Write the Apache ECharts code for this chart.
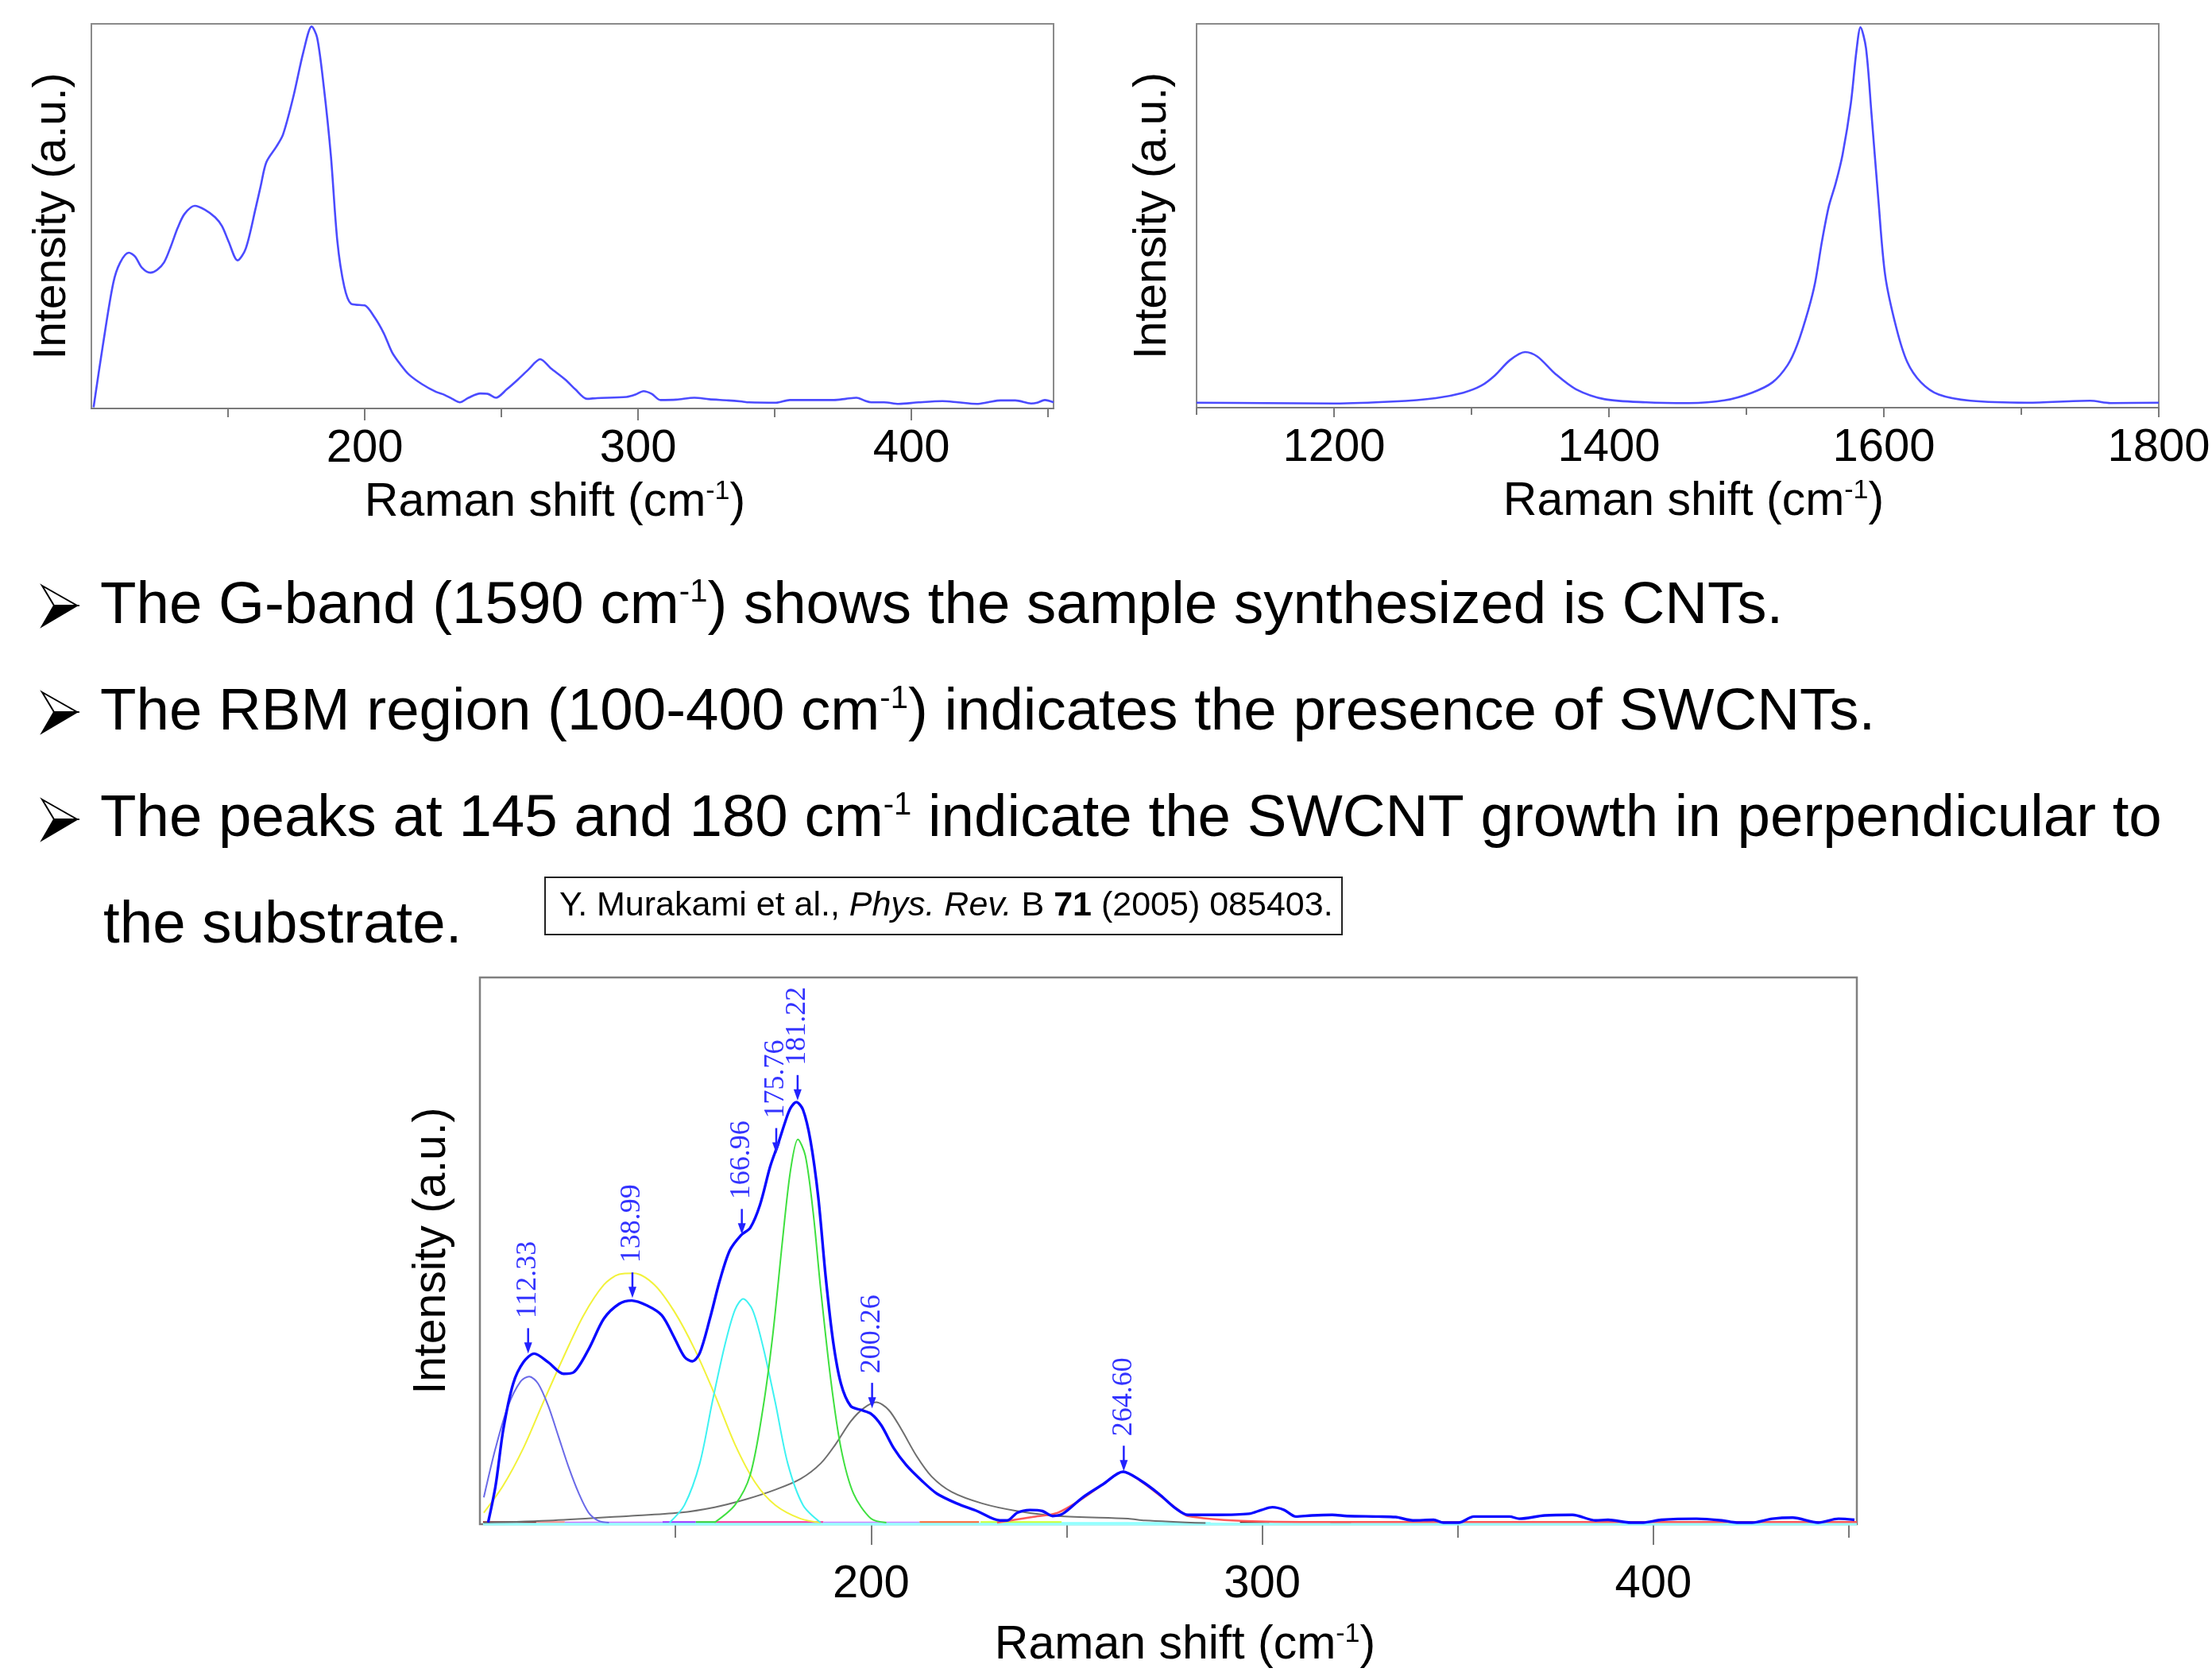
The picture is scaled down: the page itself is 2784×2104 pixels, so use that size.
<!DOCTYPE html>
<html><head><meta charset="utf-8">
<script src="https://cdn.jsdelivr.net/npm/echarts@6/dist/echarts.min.js"></script>
<style>html,body{margin:0;padding:0;background:#fff}#c{width:2784px;height:2104px}</style>
</head><body><div id="c"></div>
<script>
// ---------------- DATA ----------------
// Top-left: RBM region spectrum  [Raman shift, intensity (a.u., 0-100)]
const rbmSpectrum = [[100.8,0.3],[104.2,16.4],[108,32.6],[110.5,37.9],[113.7,40.5],[116,39.5],[118.5,36.6],[121.6,35.3],[124,36],[126.6,38],[129,42],[131.6,47],[134.1,50.6],[137.8,52.7],[141.5,51.7],[145.3,49.7],[147.8,47.4],[150.2,43.4],[153.5,38.5],[156.5,41.6],[160.2,52.4],[162,58],[164,64],[167.7,68.1],[170.1,71.2],[173.9,81.1],[177.6,92.8],[180.6,99.3],[182.6,96.4],[185,83.8],[187.6,65.9],[190,43.4],[192.5,31.7],[195,27.2],[198,26.9],[200,26.8],[203.7,23.6],[207,19.5],[210,14.6],[213,11.5],[216.2,8.8],[221,6.3],[226.1,4.3],[229,3.6],[232,2.5],[234.8,1.6],[238,2.8],[242.3,3.9],[245,3.8],[248,2.8],[252,5],[256,7.5],[260,10.2],[264.2,12.8],[268,10.5],[273.4,7.5],[277,5],[281.3,2.5],[285,2.7],[295.8,3],[299,3.6],[302,4.5],[305,3.8],[308.2,2.2],[314,2.3],[320.6,2.8],[326,2.4],[333,2.1],[338,1.8],[340.5,1.6],[350.5,1.5],[355.5,2.2],[365,2.2],[371.6,2.2],[376,2.5],[379.9,2.8],[383,2],[385.3,1.6],[390,1.6],[395.3,1.2],[402.7,1.6],[411.4,1.9],[417,1.6],[423.9,1.2],[428,1.6],[432.6,2.1],[438,2.1],[443.8,1.3],[446,1.5],[448.8,2.2],[452,1.6]];

// Top-right: D and G band spectrum
const dgSpectrum = [[1100,1.3],[1150,1.2],[1200,1.1],[1243,1.6],[1274,2.5],[1294,3.9],[1307,5.7],[1317,8.4],[1328,12.4],[1339,14.5],[1348,13.3],[1361,8.8],[1376,4.8],[1397,2.2],[1427,1.4],[1458,1.2],[1484,1.9],[1504,3.9],[1519,6.6],[1530,11.1],[1537,16.4],[1545,25.4],[1550,32.6],[1555,43.4],[1560,52.5],[1565,58.5],[1570,66],[1576,79.3],[1580,92.8],[1583,99.1],[1587,93.7],[1591,76.6],[1596,54.2],[1601,34.4],[1609,20.9],[1617,11.9],[1627,6.6],[1640,3.4],[1663,1.8],[1704,1.3],[1750,1.8],[1765,1.2],[1800,1.3]];

// Bottom: measured RBM spectrum (Murakami et al.)
const fitMeasured = [[102.1,0.3],[104,7],[106,17.4],[108.5,25.7],[111.1,29.6],[113.9,31.2],[117.5,29.6],[121.4,27.5],[124,27.8],[127.8,32],[131.7,37.6],[135.6,40.3],[138.8,40.9],[142.7,40],[146.5,38.2],[149.7,34.1],[152.3,30.6],[154.3,29.8],[156.2,31.3],[158.8,37.6],[161.3,44.5],[163.9,50.1],[166.8,52.9],[169.1,54.2],[171.6,58.4],[174.2,65.4],[176.2,69.5],[178.1,73.7],[179.4,76.1],[180.9,77.2],[182.6,75.8],[184.5,70.2],[186.5,59.8],[188.4,45.2],[190.3,33.4],[192.3,25.7],[194.8,21.6],[197.4,20.9],[200,20.2],[202.6,18.1],[205.8,13.9],[209,10.8],[212.9,8],[216.8,5.6],[221.9,3.8],[227.1,2.4],[232.9,0.7],[234.8,0.7],[237.4,2.1],[240.6,2.6],[243.8,2.4],[246.4,1.5],[249,1.9],[254.1,4.9],[259.3,7.3],[264.4,9.6],[268.9,8],[273.5,5.6],[278,2.8],[281,1.7],[288.2,1.7],[296.6,1.9],[299.8,2.6],[302.6,3.1],[305.6,2.6],[308.6,1.4],[312.7,1.6],[317.9,1.7],[321.7,1.5],[329.5,1.4],[334.1,1.3],[338.5,0.7],[343.8,0.8],[346.3,0.3],[350.2,0.3],[354.1,1.4],[363.2,1.4],[365.7,1],[372.2,1.6],[379.3,1.7],[385.2,0.7],[388.4,0.8],[394.2,0.3],[397.4,0.3],[402,0.8],[411,1],[417.5,0.7],[421.3,0.3],[425.2,0.3],[430.4,1],[435.6,1.2],[442.1,0.3],[447.3,1],[451.4,0.8]];

// Fitted components
const comp112 = [[101,4.9],[104,13.9],[107.2,21.6],[110.4,26.1],[112.6,27],[114.9,25.7],[117.5,21.6],[120.1,16],[122.7,10.4],[125.3,5.6],[127.8,2.1],[130.4,0.6],[133,0.3]];
const comp139 = [[101,2.1],[105.9,7],[111.1,13.9],[116.2,22.3],[121.4,30.6],[126.5,38.2],[131.7,43.8],[135.6,45.7],[139.4,45.9],[144.6,43.8],[149.7,38.9],[154.9,32],[160.1,23.6],[165.2,14.6],[170.4,7.6],[175.5,3.5],[182,1],[187.1,0.3]];
const comp167 = [[148.5,0.3],[152.3,3.5],[156.2,11.1],[159.4,22.3],[162.6,32.7],[165.2,39.2],[167.3,41.2],[169.7,39.2],[172.3,32.7],[175.5,22.3],[178.7,11.1],[182.6,3.5],[187.1,0.3]];
const comp181 = [[160,0.3],[165.2,3.5],[169.1,9],[172.3,20.9],[174.9,34.8],[177.4,52.2],[179.4,64.7],[181.3,70.4],[183.2,67.4],[185.2,57],[187.1,43.1],[189.7,26.4],[192.3,13.9],[195.5,5.6],[200,1],[203.9,0.3]];
const comp200 = [[101,0.3],[118.8,0.7],[138.1,1.5],[151,2.1],[160,3.1],[167.8,4.5],[175.5,6.3],[182,8.3],[187.1,11.1],[190.9,14.6],[194.8,18.8],[198.1,21.2],[201.3,22.3],[204.5,20.9],[207.7,17.4],[211.6,12.5],[215.5,8.7],[220.6,5.9],[228.4,3.8],[237.4,2.4],[247.7,1.5],[265.7,1],[270,0.7],[285.5,0.2]];
const comp265 = [[232.2,0.3],[241.2,1.3],[247.7,2.1],[254.1,4.7],[259.3,7.3],[264.4,9.6],[268.9,7.9],[273.5,5.4],[278.6,2.6],[281,1.5],[294.5,0.6],[310,0.4],[452,0.4]];

// Minor fitted components lying on the baseline: [start, end] in cm-1
const baseSegments = [[100.8,114.4],[114.4,121.7],[121.7,146.7],[146.7,155.2],[155.2,160.2],[160.2,187.8],[187.8,212.4],[212.4,227.6],[228,248.7],[248.7,286.8],[294.3,301.8],[317.4,322.7],[100.8,452]];
const baseLevels = [0.3,0.3,0.2,0.3,0.3,0.3,0.2,0.3,0.3,0.1,0.3,0.3,0.0];

// Peak annotations
const peakPos = [112.33,138.99,166.96,175.76,181.22,200.26,264.60];
const peakTip = [31.2,41.4,53.0,67.8,77.5,21.2,9.7];
const peakLabels = ['112.33','138.99','166.96','175.76','181.22','200.26','264.60'];

// Tick values
const rbmMajorTicks = [200,300,400];
const rbmMinorTicks = [150,250,350,450];
const dgMajorTicks = [1200,1400,1600,1800];
const dgMinorTicks = [1100,1300,1500,1700];

// ---------------- STYLE ----------------
const SANS = 'Liberation Sans';
const segColors = ['#8b1a1a','#ff8a8a','#cc77ff','#9933ff','#33cc33','#ff3399','#cc88ff','#ff6633','#ccff33','#66ffff','#8b1a1a','#8b1a1a','#99ffff'];
const axisGray = '#7a7a7a';

function mainX(gridIndex, min, max, ticks, tickLen, margin, namePad, nameGap) {
  return {
    type:'value', gridIndex, min, max, position:'bottom',
    axisLine:{show:true, onZero:false, lineStyle:{color:axisGray, width:2}},
    axisTick:{show:true, customValues:ticks, length:tickLen, lineStyle:{color:axisGray, width:2}},
    axisLabel:{show:true, customValues:ticks, margin, fontSize:58, fontFamily:SANS, color:'#000',
      formatter:function (v) { return String(v); }},
    splitLine:{show:false},
    name:'Raman shift (cm{sup|-1})', nameLocation:'middle', nameGap,
    nameTextStyle:{fontSize:59, fontFamily:SANS, color:'#000', lineHeight:62, padding:namePad,
      rich:{sup:{fontSize:34, fontFamily:SANS, color:'#000', verticalAlign:'top', lineHeight:27}}}
  };
}
function minorX(gridIndex, min, max, ticks, tickLen) {
  return {
    type:'value', gridIndex, min, max, position:'bottom',
    axisLine:{show:false},
    axisTick:{show:true, customValues:ticks, length:tickLen, lineStyle:{color:axisGray, width:2}},
    axisLabel:{show:false, customValues:ticks},
    splitLine:{show:false}
  };
}
function yAx(gridIndex, nameGap) {
  return {
    type:'value', gridIndex, min:0, max:100,
    axisLine:{show:false}, axisTick:{show:false}, axisLabel:{show:false}, splitLine:{show:false},
    name:'Intensity (a.u.)', nameLocation:'middle', nameGap, nameRotate:90,
    nameTextStyle:{fontSize:57, fontFamily:SANS, color:'#000'}
  };
}
function line(data, xi, yi, color, width, z) {
  return {type:'line', xAxisIndex:xi, yAxisIndex:yi, data, showSymbol:false, symbol:'none',
    smooth:0.3, lineStyle:{color, width}, z:z||2, silent:true};
}

const series = [];
series.push(line(rbmSpectrum, 0, 0, '#4b4bff', 2.6));
series.push(line(dgSpectrum, 2, 1, '#4b4bff', 2.6));
baseSegments.forEach((s, i) => {
  series.push({type:'line', xAxisIndex:4, yAxisIndex:2, data:[[s[0], baseLevels[i]],[s[1], baseLevels[i]]],
    showSymbol:false, symbol:'none', lineStyle:{color:segColors[i], width:3.5}, z:1, silent:true});
});
series.push(line(comp200, 4, 2, '#6e6e6e', 2));
series.push(line(comp139, 4, 2, '#f2f23a', 2));
series.push(line(comp112, 4, 2, '#6a6ae8', 2));
series.push(line(comp167, 4, 2, '#3ef2f2', 2));
series.push(line(comp181, 4, 2, '#3fe03f', 2));
series.push(line(comp265, 4, 2, '#ff5a5a', 2.5));
series.push(line(fitMeasured, 4, 2, '#0a0aff', 3.4, 5));
series.push({
  type:'custom', xAxisIndex:4, yAxisIndex:2, z:6, silent:true,
  data: peakPos.map((p, i) => [p, peakTip[i]]),
  renderItem: function (params, api) {
    const pt = api.coord([api.value(0), api.value(1)]);
    const x = pt[0], y = pt[1];
    const c = '#2222ff';
    return {type:'group', children:[
      {type:'line', shape:{x1:x, y1:y-32, x2:x, y2:y-8}, style:{stroke:c, lineWidth:2.5}},
      {type:'polygon', shape:{points:[[x-5,y-14],[x+5,y-14],[x,y]]}, style:{fill:c}},
      {type:'text', x:x, y:y-44, rotation:Math.PI/2,
        style:{text:peakLabels[params.dataIndex], x:0, y:0, align:'left', verticalAlign:'middle',
          font:'36px "Liberation Serif", "DejaVu Serif", serif', fill:'#3333ff'}}
    ]};
  }
});

// ---------------- TEXT ----------------
const supRich = {sup:{fontSize:40, lineHeight:32, verticalAlign:'top', fontFamily:SANS, fill:'#000'}};
function bodyLine(text, x, top) {
  return {type:'text', x, y:top, silent:true,
    style:{text, fontSize:74.5, lineHeight:74, fontFamily:SANS, fill:'#000', align:'left', verticalAlign:'top', rich:supRich}};
}
function bullet(c) {
  return {type:'group', silent:true, children:[
    {type:'polygon', shape:{points:[[53,c-25],[97,c],[68,c]]}, style:{fill:'#fff', stroke:'#000', lineWidth:2}},
    {type:'polygon', shape:{points:[[68,c],[97,c],[53,c+26]]}, style:{fill:'#000', stroke:'#000', lineWidth:2}}
  ]};
}
const graphics = [
  bullet(762), bullet(896), bullet(1031),
  bodyLine('The G-band (1590 cm{sup|-1}) shows the sample synthesized is CNTs.', 126, 726),
  bodyLine('The RBM region (100-400 cm{sup|-1}) indicates the presence of SWCNTs.', 126, 860),
  bodyLine('The peaks at 145 and 180 cm{sup|-1} indicate the SWCNT growth in perpendicular to', 126, 994),
  bodyLine('the substrate.', 130, 1128),
  {type:'rect', shape:{x:686, y:1104, width:1003, height:72}, style:{fill:'#fff', stroke:'#222', lineWidth:2}, silent:true},
  {type:'text', x:704, y:1140, silent:true,
    style:{text:'Y. Murakami et al., {i|Phys. Rev.} B {b|71} (2005) 085403.', fontSize:43, fontFamily:SANS, fill:'#000',
      align:'left', verticalAlign:'middle',
      rich:{i:{fontSize:43, fontFamily:SANS, fontStyle:'italic', fill:'#000'}, b:{fontSize:43, fontFamily:SANS, fontWeight:'bold', fill:'#000'}}}}
];

const gridBase = {show:true, borderColor:'#8a8a8a', borderWidth:2, containLabel:false, outerBoundsMode:'none'};
const option = {
  animation:false,
  backgroundColor:'#fff',
  grid:[
    Object.assign({left:115, top:30, width:1211, height:484}, gridBase),
    Object.assign({left:1506, top:30, width:1211, height:483}, gridBase),
    Object.assign({left:604, top:1230, width:1733, height:688}, gridBase, {borderColor:'#808080', borderWidth:2.5})
  ],
  xAxis:[
    mainX(0, 100, 452, rbmMajorTicks, 15, 22, [0,44,0,0], 88),
    minorX(0, 100, 452, rbmMinorTicks, 11),
    mainX(1, 1100, 1800, dgMajorTicks, 12, 22, [0,0,0,40], 88),
    minorX(1, 1100, 1800, dgMinorTicks, 9),
    mainX(2, 100, 452, rbmMajorTicks, 26, 47, [0,0,0,42], 122),
    minorX(2, 100, 452, rbmMinorTicks, 17)
  ],
  yAxis:[yAx(0, 20), yAx(1, 26), yAx(2, 31)],
  series,
  graphic:graphics
};
const chart = echarts.init(document.getElementById('c'), null, {renderer:'canvas', width:2784, height:2104});
chart.setOption(option);
</script></body></html>
